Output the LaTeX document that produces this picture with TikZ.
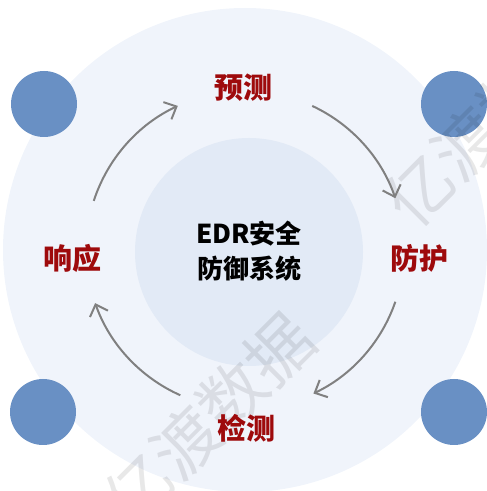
\documentclass[tikz,border=0pt]{standalone}
\usepackage{fontspec}
\newfontfamily\cjk{Noto Sans CJK SC}
\usetikzlibrary{arrows.meta,calc}
\definecolor{outerbg}{HTML}{F0F4FB}
\definecolor{innerbg}{HTML}{E2EAF6}
\definecolor{dotblue}{HTML}{6990C4}
\definecolor{labred}{HTML}{9E0A0C}
\definecolor{arrgray}{HTML}{808080}
\tikzset{
  dot/.style={circle, fill=dotblue, minimum size=66pt, inner sep=0pt},
  lab/.style={font=\cjk\bfseries\fontsize{29}{34}\selectfont, text=labred, inner sep=0pt},
  ctext/.style={font=\cjk\bfseries\fontsize{26}{35}\selectfont, align=center, inner sep=0pt},
  cyc/.style={draw=arrgray, line width=2pt, -{Straight Barb[length=10pt,width=19pt,line width=2pt]}},
  wm/.style={font=\cjk\fontsize{66}{66}\selectfont, text=black, text opacity=0.09, rotate=45, inner sep=0pt}
}
\begin{document}
\begin{tikzpicture}[x=1pt,y=1pt]
\useasboundingbox (0,0) rectangle (487,491);
\begin{scope}
\clip (0,0) rectangle (487,491);
\fill[outerbg] (245,241) circle[radius=242];
\fill[innerbg] (249,239) circle[radius=114];
\node[dot] (d1) at (44,387) {};
\node[dot] (d2) at (454,387) {};
\node[dot] (d3) at (43,79) {};
\node[dot] (d4) at (454,79) {};
\node[wm] (w1) at (209,72) {亿渡数据};
\node[wm] (w2) at (490,371) {亿渡数据};
\end{scope}
\coordinate (C) at (245,241);
\node[ctext] (core) at (249,240) {EDR安全\\防御系统};
\node[lab] (pred) at (243,403) {预测};
\node[lab] (prot) at (419,233) {防护};
\node[lab] (det) at (246,63) {检测};
\node[lab] (resp) at (72,233) {响应};
\coordinate (s1) at ($(C)+(162:159)$);
\coordinate (s2) at ($(C)+(65:159)$);
\coordinate (s3) at ($(C)+(-19:159)$);
\coordinate (s4) at ($(C)+(-114:159)$);
\draw[cyc] (s1) arc[start angle=162, end angle=115, radius=159];
\draw[cyc] (s2) arc[start angle=65, end angle=19, radius=159];
\draw[cyc] (s3) arc[start angle=-19, end angle=-64.5, radius=159];
\draw[cyc] (s4) arc[start angle=-114, end angle=-160.5, radius=159];
\end{tikzpicture}
\end{document}
